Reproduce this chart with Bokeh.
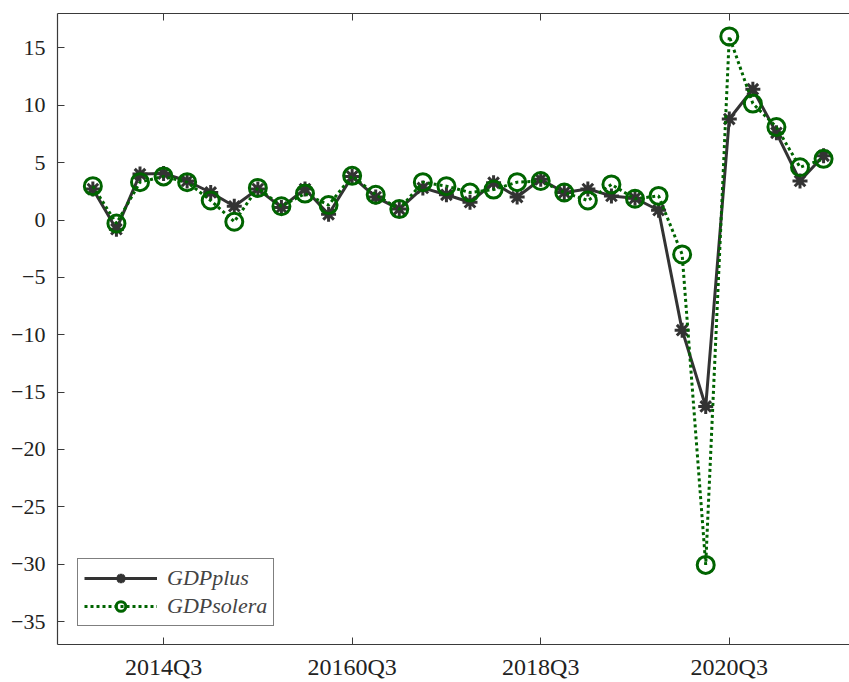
from bokeh.plotting import figure
from bokeh.models import Range1d, FixedTicker, LinearAxis, Legend
from bokeh.embed import file_html
from bokeh.resources import INLINE

quarters = ["2013Q4", "2014Q1", "2014Q2", "2014Q3", "2014Q4", "2015Q1", "2015Q2", "2015Q3",
            "2015Q4", "2016Q1", "2016Q2", "2016Q3", "2016Q4", "2017Q1", "2017Q2", "2017Q3",
            "2017Q4", "2018Q1", "2018Q2", "2018Q3", "2018Q4", "2019Q1", "2019Q2", "2019Q3",
            "2019Q4", "2020Q1", "2020Q2", "2020Q3", "2020Q4", "2021Q1", "2021Q2", "2021Q3"]
gdp_plus = [2.7, -0.8, 4.0, 4.05, 3.4, 2.4, 1.2, 2.7, 1.1, 2.7, 0.5, 3.8, 2.0, 0.95, 2.8, 2.2,
            1.55, 3.25, 2.0, 3.55, 2.4, 2.7, 2.1, 1.9, 0.85, -9.6, -16.25, 8.8, 11.4, 7.6, 3.4, 5.6]
gdp_solera = [2.95, -0.3, 3.3, 3.8, 3.3, 1.7, -0.15, 2.8, 1.2, 2.3, 1.3, 3.85, 2.2, 0.95, 3.3, 2.95,
              2.4, 2.65, 3.3, 3.4, 2.4, 1.7, 3.1, 1.85, 2.1, -3.0, -30.06, 16.0, 10.15, 8.1, 4.6, 5.33]
x_tick_quarters = ["2014Q3", "2016Q3", "2018Q3", "2020Q3"]
x_tick_labels = ["2014Q3", "20160Q3", "2018Q3", "2020Q3"]
y_ticks = [-35, -30, -25, -20, -15, -10, -5, 0, 5, 10, 15]

xs = list(range(len(quarters)))
tick_pos = [quarters.index(q) for q in x_tick_quarters]

FONT = "'Liberation Serif', 'Times New Roman', serif"
AX = "#3a3a3a"

p = figure(width=849, height=682, output_backend="svg", toolbar_location=None,
           x_range=Range1d(-1.5, 32.1), y_range=Range1d(-37, 18),
           min_border_left=57, min_border_right=0, min_border_top=13, min_border_bottom=38)
p.outline_line_color = None
p.grid.visible = False
p.background_fill_color = "white"

gray = "#333333"
green = "#006400"

l1 = p.line(xs, gdp_plus, line_color=gray, line_width=3)
m1 = p.scatter(xs, gdp_plus, marker="asterisk", size=15, line_color=gray, line_width=3)
l2 = p.line(xs, gdp_solera, line_color=green, line_width=3, line_dash="3 3")
m2 = p.scatter(xs, gdp_solera, marker="circle", size=17, line_color=green, line_width=3,
               fill_color=None)

legend = Legend(items=[("GDPplus", [l1, m1]), ("GDPsolera", [l2, m2])],
                location=(20, 18), border_line_color="black", border_line_width=1,
                background_fill_color="white", background_fill_alpha=1,
                label_text_font=FONT, label_text_font_style="italic",
                label_text_font_size="22px", glyph_width=73, glyph_height=24,
                label_height=24, label_standoff=10, padding=6, spacing=2, margin=0)
p.add_layout(legend, "center")

xa = p.xaxis[0]
xa.ticker = FixedTicker(ticks=tick_pos)
xa.major_label_overrides = {t: lab for t, lab in zip(tick_pos, x_tick_labels)}
ya = p.yaxis[0]
ya.ticker = FixedTicker(ticks=y_ticks)

for ax in (xa, ya):
    ax.axis_line_color = AX
    ax.axis_line_width = 1.2
    ax.major_tick_line_color = AX
    ax.major_tick_in = 7
    ax.major_tick_out = 0
    ax.minor_tick_line_color = None
    ax.major_label_text_font = FONT
    ax.major_label_text_color = "#222222"
xa.major_label_text_font_size = "24px"
ya.major_label_text_font_size = "22px"
xa.major_label_standoff = 9
ya.major_label_standoff = 12

top = LinearAxis(ticker=FixedTicker(ticks=tick_pos), axis_line_color=AX, axis_line_width=1.2,
                 major_tick_line_color=AX, major_tick_in=7, major_tick_out=0,
                 minor_tick_line_color=None, major_label_standoff=0,
                 major_label_overrides={t: "" for t in tick_pos})
p.add_layout(top, "above")

open("out.html", "w").write(file_html(p, INLINE))
